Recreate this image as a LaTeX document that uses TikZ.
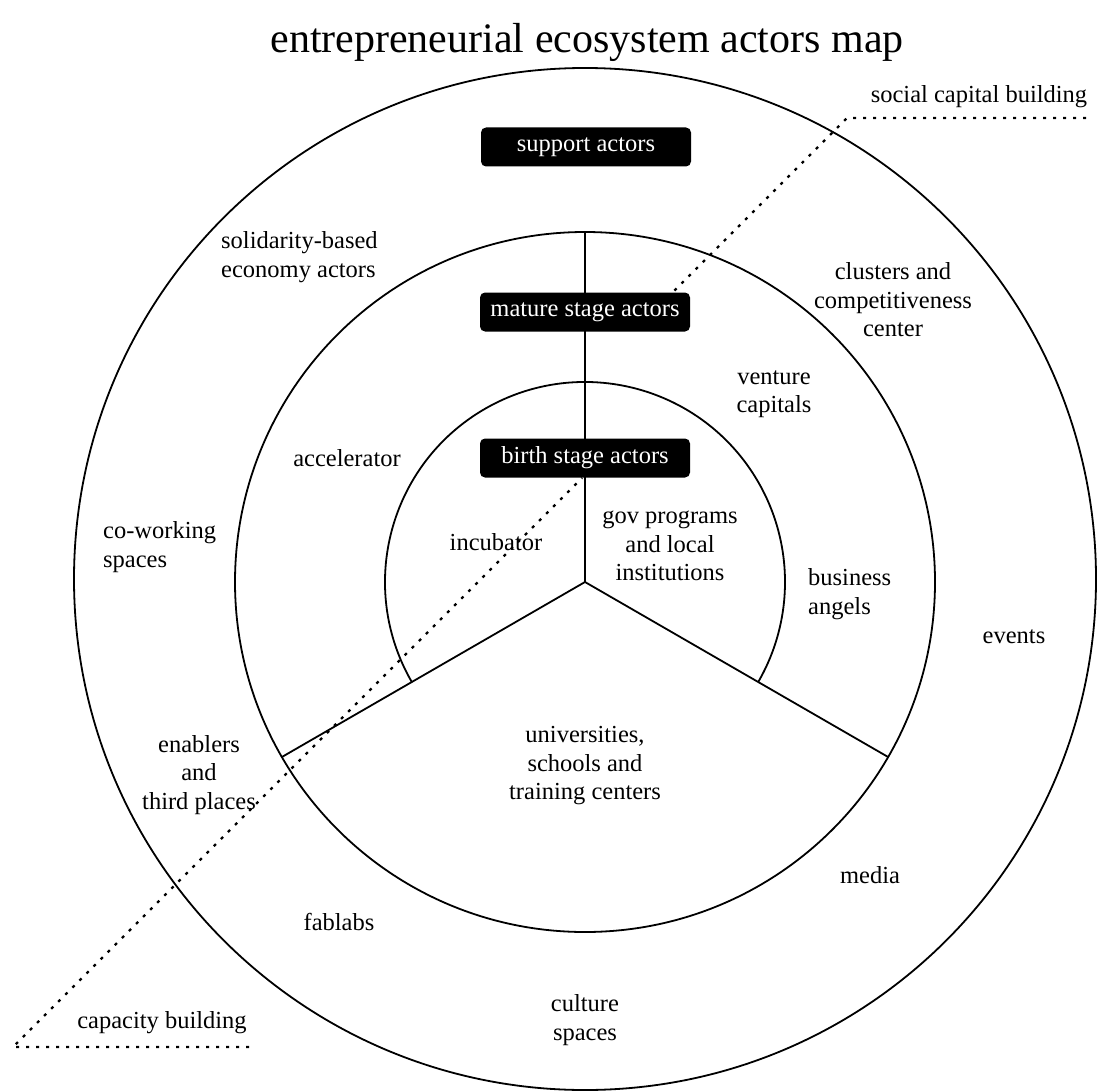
\documentclass[tikz,border=0pt]{standalone}
\usepackage{fontspec}
\setmainfont{Liberation Serif}
\begin{document}
\begin{tikzpicture}[x=1pt,y=-1pt,
  lbl/.style={font=\fontsize{24.5}{28.5}\selectfont, align=center, inner sep=0pt},
  lbll/.style={lbl, align=left, anchor=west},
  stagebox/.style={fill=black, text=white, rounded corners=5pt, minimum width=210pt,
    minimum height=39pt, inner sep=0pt, font=\fontsize{24.5}{28.5}\selectfont},
  ring/.style={line width=1.8pt, draw=black},
  dotline/.style={line width=2.2pt, dash pattern=on 3pt off 7pt}]
\useasboundingbox (0,0) rectangle (1099,1091);
% geometry
\coordinate (Oo) at (585,579);
\coordinate (O) at (585,582);
\coordinate (top) at (585,232);
\coordinate (lft) at (281.9,757);
\coordinate (rgt) at (888.1,757);
\coordinate (il) at (411.8,682);
% circles
\draw[ring] (Oo) circle[radius=511];
\draw[ring] (O) circle[radius=350];
\draw[ring] (il) arc[start angle=150, end angle=390, radius=200];
\draw[ring] (O) -- (top);
\draw[ring] (O) -- (lft);
\draw[ring] (O) -- (rgt);
% dotted guides
\coordinate (sc1) at (847,118);
\coordinate (sc2) at (1086,118);
\coordinate (sc3) at (673,292);
\coordinate (cb1) at (13,1047);
\coordinate (cb2) at (249,1047);
\coordinate (cb3) at (582,478);
\draw[dotline] (sc2) -- (sc1) -- (sc3);
\draw[dotline] (cb2) -- (cb1) -- (cb3);
% title
\node[inner sep=0pt, font=\fontsize{42}{48}\selectfont] (title) at (587,42) {entrepreneurial ecosystem actors map};
% boxes
\node[stagebox] (support) at (586,147) {support actors};
\node[stagebox] (mature) at (585,312) {mature stage actors};
\node[stagebox] (birth) at (585,458) {birth stage actors};
% labels
\node[lbl] (scb) at (979,97) {social capital building};
\node[lbl] (cap) at (162,1023) {capacity building};
\node[lbll] (solid) at (221,257) {solidarity-based\\economy actors};
\node[lbl] (clus) at (893,300) {clusters and\\competitiveness\\center};
\node[lbl] (vent) at (774,394) {venture\\capitals};
\node[lbl] (acc) at (347,458) {accelerator};
\node[lbll] (cow) at (103,547) {co-working\\spaces};
\node[lbl] (inc) at (496,542) {incubator};
\node[lbl] (gov) at (670,546) {gov programs\\and local\\institutions};
\node[lbll] (bus) at (808,594) {business\\angels};
\node[lbl] (ev) at (1014,637) {events};
\node[lbl] (enab) at (199,775) {enablers\\and\\third places};
\node[lbl] (univ) at (585,766) {universities,\\schools and\\training centers};
\node[lbl] (media) at (870,875) {media};
\node[lbl] (fab) at (339,922) {fablabs};
\node[lbl] (cult) at (585,1020) {culture\\spaces};
\end{tikzpicture}
\end{document}
